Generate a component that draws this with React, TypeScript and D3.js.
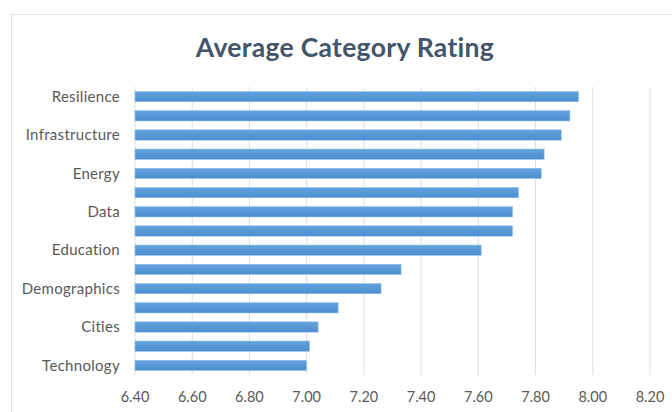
import React from 'react';
import { scaleBand, scaleLinear, range } from 'd3';

// categories top to bottom, only every other one gets a label (like Excel does)
const categories = [
  'Resilience', 'Governance', 'Infrastructure', 'Mobility', 'Energy',
  'Environment', 'Data', 'Health', 'Education', 'Economy',
  'Demographics', 'Safety', 'Cities', 'Housing', 'Technology',
];
const ratings = [
  7.95, 7.92, 7.89, 7.83, 7.82,
  7.74, 7.72, 7.72, 7.61, 7.33,
  7.26, 7.11, 7.04, 7.01, 7.00,
];
const xTicks = [6.4, 6.6, 6.8, 7.0, 7.2, 7.4, 7.6, 7.8, 8.0, 8.2];

const width = 672;
const height = 412;
const margin = { top: 87, left: 135, bottom: 37, right: 22 };
const innerWidth = width - margin.left - margin.right;
const innerHeight = height - margin.top - margin.bottom;

const font = 'Lato, "Open Sans", sans-serif';

export default function App() {
  const xScale = scaleLinear().domain([6.4, 8.2]).range([0, innerWidth]);
  const yScale = scaleBand()
    .domain(categories)
    .range([0, innerHeight])
    .paddingInner(0.46)
    .paddingOuter(0.23);

  return (
    <svg
      width={width}
      height={height}
      style={{ position: 'absolute', left: 0, top: 0, background: '#fff' }}
    >
      <defs>
        <linearGradient id="barFill" x1="0" y1="0" x2="0" y2="1">
          <stop offset="0" stopColor="#64a3dd" />
          <stop offset="1" stopColor="#4b8dcf" />
        </linearGradient>
      </defs>
      {/* chart frame */}
      <rect x={11.5} y={14.5} width={700} height={450} fill="#fff" stroke="#dfe3ea" />
      <text
        x={345}
        y={57}
        textAnchor="middle"
        style={{ fontFamily: font, fontWeight: 700, fontSize: 26.5, letterSpacing: 0.3, fill: '#44546a' }}
      >
        Average Category Rating
      </text>
      <g transform={`translate(${margin.left}, ${margin.top})`}>
        {/* grid */}
        {xTicks.map((t) => (
          <g key={t} transform={`translate(${xScale(t)}, 0)`}>
            <line y1={0} y2={innerHeight} stroke="#d9dde6" />
            <text
              y={innerHeight + 27}
              textAnchor="middle"
              style={{ fontFamily: font, fontSize: 14.5, fill: '#595959' }}
            >
              {t.toFixed(2)}
            </text>
          </g>
        ))}
        {categories.map((c, i) => (
          <rect
            key={c}
            x={0}
            y={yScale(c)}
            width={xScale(ratings[i])}
            height={yScale.bandwidth()}
            fill="url(#barFill)"
            stroke="#9cc3ea"
            strokeWidth={0.6}
          />
        ))}
        {range(0, categories.length, 2).map((i) => (
          <text
            key={categories[i]}
            x={-15}
            y={yScale(categories[i]) + yScale.bandwidth() / 2}
            dy="0.35em"
            textAnchor="end"
            style={{ fontFamily: font, fontSize: 15, letterSpacing: 0.3, fill: '#595959' }}
          >
            {categories[i]}
          </text>
        ))}
      </g>
    </svg>
  );
}
